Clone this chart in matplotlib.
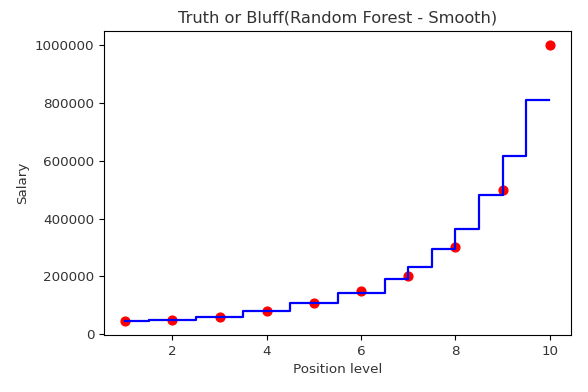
import matplotlib
matplotlib.use("Agg")
import matplotlib.pyplot as plt

# Position levels and actual salaries
levels = [1, 2, 3, 4, 5, 6, 7, 8, 9, 10]
salaries = [45000, 50000, 60000, 80000, 110000, 150000, 200000, 300000, 500000, 1000000]

# Random forest prediction on a fine grid: piecewise constant
step_edges = [1.0, 1.5, 2.5, 3.5, 4.5, 5.5, 6.5, 7.0, 7.5, 8.0, 8.5, 9.0, 9.5, 9.99]
step_values = [47000, 51000, 61000, 80000, 107000, 143000, 191000,
               232000, 296000, 365000, 482000, 616000, 809000]

plt.rcParams['font.size'] = 9.7
plt.rcParams['text.color'] = '#333333'
plt.rcParams['xtick.labelcolor'] = '#333333'
plt.rcParams['ytick.labelcolor'] = '#333333'
plt.rcParams['axes.labelcolor'] = '#333333'

fig = plt.figure(figsize=(5.88, 3.92), dpi=100)
ax = fig.add_axes([0.177, 0.145, 0.794, 0.776])

ax.scatter(levels, salaries, color='red', s=40)
ax.step(step_edges, step_values + [step_values[-1]], where='post', color='blue', linewidth=1.6)

ax.ticklabel_format(style='plain', axis='y')
ax.set_title('Truth or Bluff(Random Forest - Smooth)', fontsize=11.7)
ax.set_xlabel('Position level')
ax.set_ylabel('Salary')

fig.savefig('out.png', dpi=100)
